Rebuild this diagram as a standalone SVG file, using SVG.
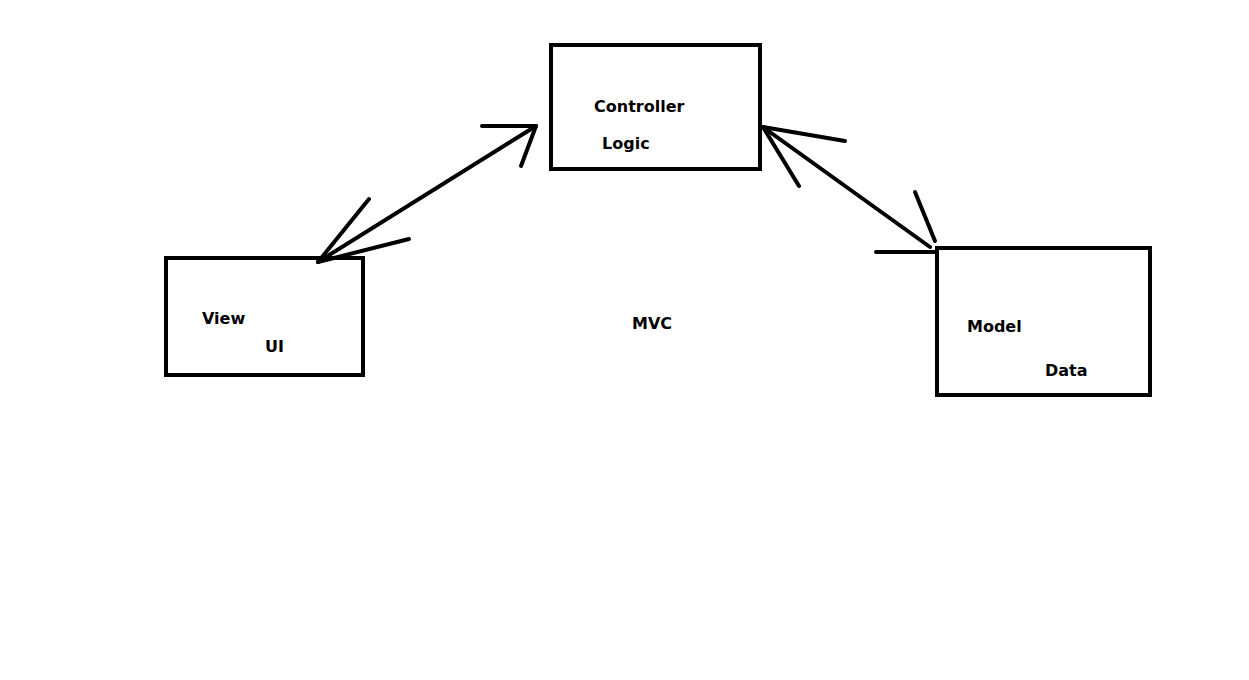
<svg xmlns="http://www.w3.org/2000/svg" width="1249" height="680" viewBox="0 0 1249 680">
<style>
.box{fill:none;stroke:#000;stroke-width:4}
.ln{stroke:#000;stroke-width:4;stroke-linecap:round;fill:none}
.t{font-family:"DejaVu Sans",Verdana,sans-serif;font-weight:bold;font-size:16px;fill:#000}
</style>
<rect width="1249" height="680" fill="#fff"/>
<g id="connectors">
<line class="ln" x1="318" y1="262" x2="536" y2="126"/>
<line class="ln" x1="482" y1="126" x2="536" y2="126"/>
<line class="ln" x1="536" y1="126" x2="521" y2="166"/>
<line class="ln" x1="318" y1="262" x2="369" y2="199"/>
<line class="ln" x1="318" y1="262" x2="409" y2="239"/>
<line class="ln" x1="763" y1="127" x2="930" y2="247"/>
<line class="ln" x1="763" y1="127" x2="845" y2="141"/>
<line class="ln" x1="763" y1="127" x2="799" y2="186"/>
<line class="ln" x1="915" y1="192" x2="935" y2="241"/>
<line class="ln" x1="876" y1="252" x2="935" y2="252"/>
</g>
<g id="controller">
<rect class="box" x="551" y="45" width="209" height="124"/>
<text class="t" x="594" y="112">Controller</text>
<text class="t" x="602" y="149">Logic</text>
</g>
<g id="view">
<rect class="box" x="166" y="258" width="197" height="117"/>
<text class="t" x="202" y="324">View</text>
<text class="t" x="265" y="352">UI</text>
</g>
<g id="model">
<rect class="box" x="937" y="248" width="213" height="147"/>
<text class="t" x="967" y="332">Model</text>
<text class="t" x="1045" y="376">Data</text>
</g>
<g id="label">
<text class="t" x="632" y="329">MVC</text>
</g>
</svg>
